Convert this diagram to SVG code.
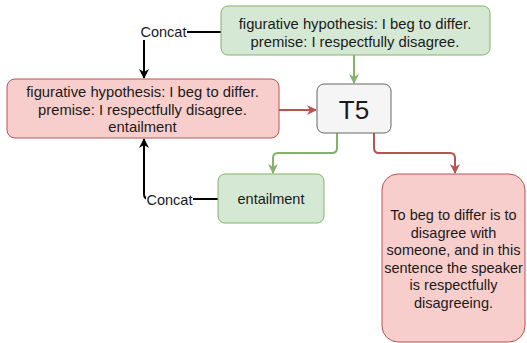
<svg xmlns="http://www.w3.org/2000/svg" width="527" height="343" viewBox="0 0 527 343">
<style>
  .t{font-family:"Liberation Sans",Arial,Helvetica,sans-serif;font-size:14.5px;fill:#1a1a1a;text-anchor:middle}
  .b{font-size:14.8px}
  .green{fill:#d5e8d4;stroke:#82b366;stroke-width:1}
  .red{fill:#f8cecc;stroke:#b85450;stroke-width:1}
  .grey{fill:#f5f5f5;stroke:#666666;stroke-width:1}
  .e{fill:none;stroke-width:2;stroke-linejoin:round}
</style>
<defs>
  <marker id="aG" viewBox="0 0 10 10" refX="9" refY="5" markerWidth="10" markerHeight="10" markerUnits="userSpaceOnUse" orient="auto"><path d="M0,0 L10,5 L0,10 L3,5 z" fill="#82b366"/></marker>
  <marker id="aR" viewBox="0 0 10 10" refX="9" refY="5" markerWidth="10" markerHeight="10" markerUnits="userSpaceOnUse" orient="auto"><path d="M0,0 L10,5 L0,10 L3,5 z" fill="#b85450"/></marker>
  <marker id="aK" viewBox="0 0 10 10" refX="9" refY="5" markerWidth="10" markerHeight="10" markerUnits="userSpaceOnUse" orient="auto"><path d="M0,0 L10,5 L0,10 L3,5 z" fill="#000000"/></marker>
</defs>
<rect width="527" height="343" fill="#ffffff"/>
<g id="connectors">
  <path class="e" stroke="#000" d="M221,32 H149 Q144,32 144,37 V78" marker-end="url(#aK)"/>
  <path class="e" stroke="#000" d="M218,199 H149 Q144,199 144,194 V139" marker-end="url(#aK)"/>
  <path class="e" stroke="#82b366" d="M354,55 V83" marker-end="url(#aG)"/>
  <path class="e" stroke="#b85450" d="M279,110 H316" marker-end="url(#aR)"/>
  <path class="e" stroke="#82b366" d="M337,133 V148 Q337,153 332,153 H278 Q273,153 273,158 V173" marker-end="url(#aG)"/>
  <path class="e" stroke="#b85450" d="M374,133 V148 Q374,153 379,153 H450 Q455,153 455,158 V173" marker-end="url(#aR)"/>
  <g id="label-concat-top"><rect x="140" y="24" width="47" height="16" fill="#ffffff"/><text class="t" x="163.5" y="37">Concat</text></g>
  <g id="label-concat-bottom"><rect x="146" y="191" width="47" height="17" fill="#ffffff"/><text class="t" x="169.5" y="205">Concat</text></g>
</g>
<g id="input-green">
  <rect class="green" x="221" y="6" width="269" height="49" rx="7"/>
  <text class="t b" x="355" y="29">figurative hypothesis: I beg to differ.</text>
  <text class="t b" x="355" y="47">premise: I respectfully disagree.</text>
</g>
<g id="input-red">
  <rect class="red" x="7" y="79" width="272" height="59" rx="8"/>
  <text class="t b" x="142.5" y="97">figurative hypothesis: I beg to differ.</text>
  <text class="t b" x="142.5" y="114.5">premise: I respectfully disagree.</text>
  <text class="t b" x="142.5" y="132">entailment</text>
</g>
<g id="t5">
  <rect class="grey" x="317" y="84" width="74" height="49" rx="7"/>
  <text class="t" x="354" y="119" style="font-size:26px">T5</text>
</g>
<g id="entailment">
  <rect class="green" x="218" y="174" width="106" height="49" rx="7"/>
  <text class="t" x="271" y="204">entailment</text>
</g>
<g id="explanation">
  <rect class="red" x="382" y="174" width="143" height="168" rx="16"/>
  <text class="t" x="453.5" y="220">To beg to differ is to</text>
  <text class="t" x="453.5" y="237.5">disagree with</text>
  <text class="t" x="453.5" y="255">someone, and in this</text>
  <text class="t" x="453.5" y="272.5">sentence the speaker</text>
  <text class="t" x="453.5" y="290">is respectfully</text>
  <text class="t" x="453.5" y="307.5">disagreeing.</text>
</g>
</svg>
